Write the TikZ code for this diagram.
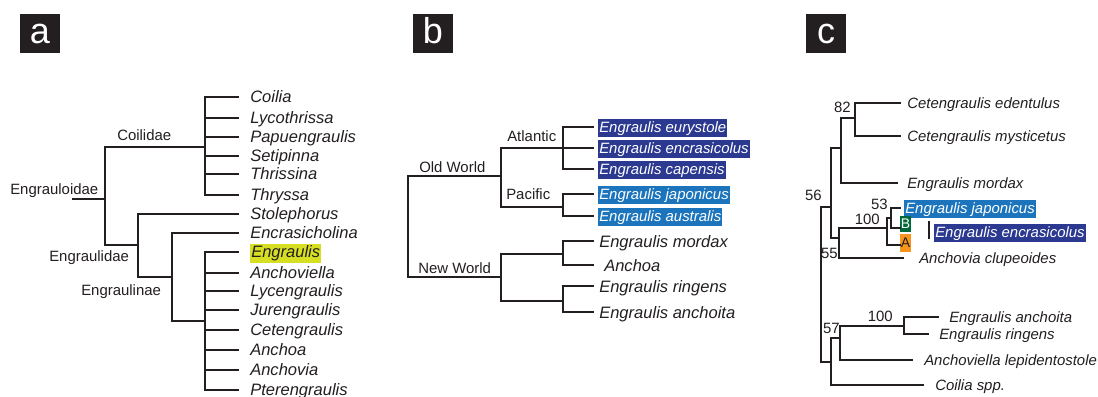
\documentclass[tikz,border=0pt]{standalone}
\usepackage{fontspec}
\setmainfont{Liberation Sans}

\definecolor{ink}{HTML}{231F20}
\definecolor{atlblue}{HTML}{2B3990}
\definecolor{pacblue}{HTML}{1C75BC}
\definecolor{hiyellow}{HTML}{D7DF23}
\definecolor{cladeB}{HTML}{006838}
\definecolor{cladeA}{HTML}{F7941D}

\begin{document}
\begin{tikzpicture}[x=0.75pt, y=-0.75pt]

% --- styles for branches, tip labels and clade labels ---
\tikzset{
    branch/.style={draw=ink, line width=1pt, line cap=rect},
    leaf/.style={anchor=base west, inner sep=0pt, text=ink, font=\fontsize{12.4}{14}\selectfont\itshape},
    smallleaf/.style={leaf, font=\fontsize{11.2}{13}\selectfont\itshape},
    cladelabel/.style={anchor=base west, inner sep=0pt, text=ink, font=\fontsize{11.2}{13}\selectfont},
    support/.style={cladelabel, anchor=base east},
    hilite/.style={smallleaf, fill=#1, text=white, inner xsep=0.75pt, text height=10pt, text depth=3.4pt},
    panelletter/.style={anchor=base, inner sep=0pt, text=white, font=\fontsize{27}{30}\selectfont},
    cladebox/.style={inner sep=0pt, minimum width=8.25pt, font=\fontsize{10.5}{12}\selectfont}
}
\path[use as bounding box, fill=white] (0,0) rectangle (1098,396);

% 1. Panel letters
\foreach \p/\x in {a/20, b/413, c/806}{
    \fill[ink] (\x,14) rectangle ++(40,39);
    \node[panelletter] (panel-\p) at (\x+20,43) {\p};
}

% 2. Panel a: genera of Engrauloidae
\coordinate (root-a) at (73,199);
\coordinate (engrauloidae) at (105,199);
\coordinate (coilidae) at (205,147);
\coordinate (engraulidae) at (138,245);
\coordinate (engraulinae) at (172,277);
\coordinate (engraulis-grp) at (205,321);

\foreach \y/\g/\n in {97/Coilia/coilidae, 118/Lycothrissa/coilidae, 137/Papuengraulis/coilidae,
        156/Setipinna/coilidae, 174/Thrissina/coilidae, 195/Thryssa/coilidae,
        214/Stolephorus/engraulidae, 233/Encrasicholina/engraulinae,
        273/Anchoviella/engraulis-grp, 291/Lycengraulis/engraulis-grp, 310/Jurengraulis/engraulis-grp,
        330/Cetengraulis/engraulis-grp, 350/Anchoa/engraulis-grp, 370/Anchovia/engraulis-grp,
        390/Pterengraulis/engraulis-grp}{
    \coordinate (ta-\g) at (238,\y);
    \draw[branch] (\n |- ta-\g) -- (ta-\g);
    \node[leaf] (a-\g) at (250,\y+5) {\g};
}
\coordinate (ta-Engraulis) at (238,252);
\draw[branch] (engraulis-grp |- ta-Engraulis) -- (ta-Engraulis);
\node[leaf, fill=hiyellow, inner xsep=0.75pt, text height=9.75pt, text depth=4.5pt] (a-Engraulis) at (250,257) {Engraulis};

\foreach \n/\first/\last in {engrauloidae/coilidae/engraulidae, coilidae/ta-Coilia/ta-Thryssa,
        engraulidae/ta-Stolephorus/engraulinae, engraulinae/ta-Encrasicholina/engraulis-grp,
        engraulis-grp/ta-Engraulis/ta-Pterengraulis}
    \draw[branch] (\n |- \first) -- (\n |- \last);
\draw[branch] (root-a) -- (engrauloidae);
\foreach \n/\c in {engrauloidae/coilidae, engrauloidae/engraulidae, engraulidae/engraulinae, engraulinae/engraulis-grp}
    \draw[branch] (\n |- \c) -- (\c);

\node[cladelabel] (lbl-engrauloidae) at (10,194) {Engrauloidae};
\node[cladelabel] (lbl-coilidae) at (117,140) {Coilidae};
\node[cladelabel] (lbl-engraulidae) at (49,261) {Engraulidae};
\node[cladelabel] (lbl-engraulinae) at (81,295) {Engraulinae};

% 3. Panel b: Old World / New World
\coordinate (root-b) at (408,176);
\coordinate (oldworld) at (501,176);
\coordinate (newworld) at (501,277);
\coordinate (atlantic) at (563,148);
\coordinate (pacific) at (563,207);
\coordinate (nw-north) at (563,254);
\coordinate (nw-south) at (563,301);

\foreach \y/\sp/\n/\col in {127/eurystole/atlantic/atlblue, 148/encrasicolus/atlantic/atlblue,
        169/capensis/atlantic/atlblue, 194/japonicus/pacific/pacblue, 216/australis/pacific/pacblue}{
    \coordinate (tb-\sp) at (593,\y);
    \draw[branch] (\n |- tb-\sp) -- (tb-\sp);
    \node[hilite=\col] (b-\sp) at (598,\y+5) {Engraulis \sp};
}
\foreach \y/\key/\txt/\n/\x in {241/mordax/Engraulis mordax/nw-north/599, 265/anchoa/Anchoa/nw-north/604,
        286/ringens/Engraulis ringens/nw-south/599, 312/anchoita/Engraulis anchoita/nw-south/599}{
    \coordinate (tb-\key) at (593,\y);
    \draw[branch] (\n |- tb-\key) -- (tb-\key);
    \node[leaf] (b-\key) at (\x,\y+6) {\txt};
}

\foreach \n/\first/\last in {root-b/oldworld/newworld, oldworld/atlantic/pacific, newworld/nw-north/nw-south,
        atlantic/tb-eurystole/tb-capensis, pacific/tb-japonicus/tb-australis,
        nw-north/tb-mordax/tb-anchoa, nw-south/tb-ringens/tb-anchoita}
    \draw[branch] (\n |- \first) -- (\n |- \last);
\foreach \n/\c in {root-b/oldworld, root-b/newworld, oldworld/atlantic, oldworld/pacific, newworld/nw-north, newworld/nw-south}
    \draw[branch] (\n |- \c) -- (\c);

\node[cladelabel] (lbl-oldworld) at (419,172) {Old World};
\node[cladelabel] (lbl-atlantic) at (507,141) {Atlantic};
\node[cladelabel] (lbl-pacific) at (506,199) {Pacific};
\node[cladelabel] (lbl-newworld) at (418,273) {New World};

% 4. Panel c: tree with support values
\coordinate (root-c) at (821,284);
\coordinate (c-upper) at (831,207);
\coordinate (c-lower) at (831,362);
\coordinate (c-cet) at (841,148);
\coordinate (c82) at (855,118);
\coordinate (c55) at (839,238);
\coordinate (c100) at (887,228);
\coordinate (c53) at (891,218);
\coordinate (c57) at (840,338);
\coordinate (c100b) at (904,326);

\foreach \y/\key/\txt/\n/\tx/\lx in {103/edentulus/Cetengraulis edentulus/c82/900/907,
        136/mysticetus/Cetengraulis mysticetus/c82/900/907,
        183/mordax/Engraulis mordax/c-cet/897/907,
        258/clupeoides/Anchovia clupeoides/c55/903/919,
        317/anchoita/Engraulis anchoita/c100b/938/949,
        334/ringens/Engraulis ringens/c100b/928/939,
        360/lepidentostole/Anchoviella lepidentostole/c57/912/924,
        385/coilia/Coilia spp./c-lower/923/935}{
    \coordinate (tc-\key) at (\tx,\y);
    \draw[branch] (\n |- tc-\key) -- (tc-\key);
    \node[smallleaf] (c-\key) at (\lx,\y+5) {\txt};
}
\coordinate (tc-japonicus) at (900,208);
\coordinate (tc-B) at (900,228);
\coordinate (tc-A) at (900,245);
\node[hilite=pacblue] (c-japonicus) at (904,213) {Engraulis japonicus};
\node[cladebox, fill=cladeB, text=white, minimum height=12pt] (clade-B) at (905.5,224) {B};
\node[cladebox, fill=cladeA, text=ink, minimum height=13.5pt] (clade-A) at (905.5,243) {A};

\foreach \n/\first/\last in {root-c/c-upper/c-lower, c-upper/c-cet/c55, c-cet/c82/tc-mordax,
        c82/tc-edentulus/tc-mysticetus, c55/c100/tc-clupeoides, c100/c53/tc-A, c53/tc-japonicus/tc-B,
        c-lower/c57/tc-coilia, c57/c100b/tc-lepidentostole, c100b/tc-anchoita/tc-ringens}
    \draw[branch] (\n |- \first) -- (\n |- \last);
\foreach \n/\c in {root-c/c-upper, root-c/c-lower, c-upper/c-cet, c-upper/c55, c-cet/c82, c55/c100,
        c100/c53, c100/tc-A, c53/tc-B, c53/tc-japonicus, c-lower/c57, c57/c100b}
    \draw[branch] (\n |- \c) -- (\c);

% encrasicolus set off by a bar
\coordinate (bar-top) at (929,222);
\coordinate (bar-bottom) at (929,238);
\draw[branch] (bar-top) -- (bar-bottom);
\node[hilite=atlblue] (c-encrasicolus) at (934,237) {Engraulis encrasicolus};

\node[support] (bs-56) at (822,200) {56};
\node[support] (bs-82) at (851,112) {82};
\node[support] (bs-53) at (888,209) {53};
\node[support] (bs-100a) at (880,224) {100};
\node[support] (bs-55) at (838,258) {55};
\node[support] (bs-100b) at (893,321) {100};
\node[support] (bs-57) at (840,333) {57};

\end{tikzpicture}
\end{document}
